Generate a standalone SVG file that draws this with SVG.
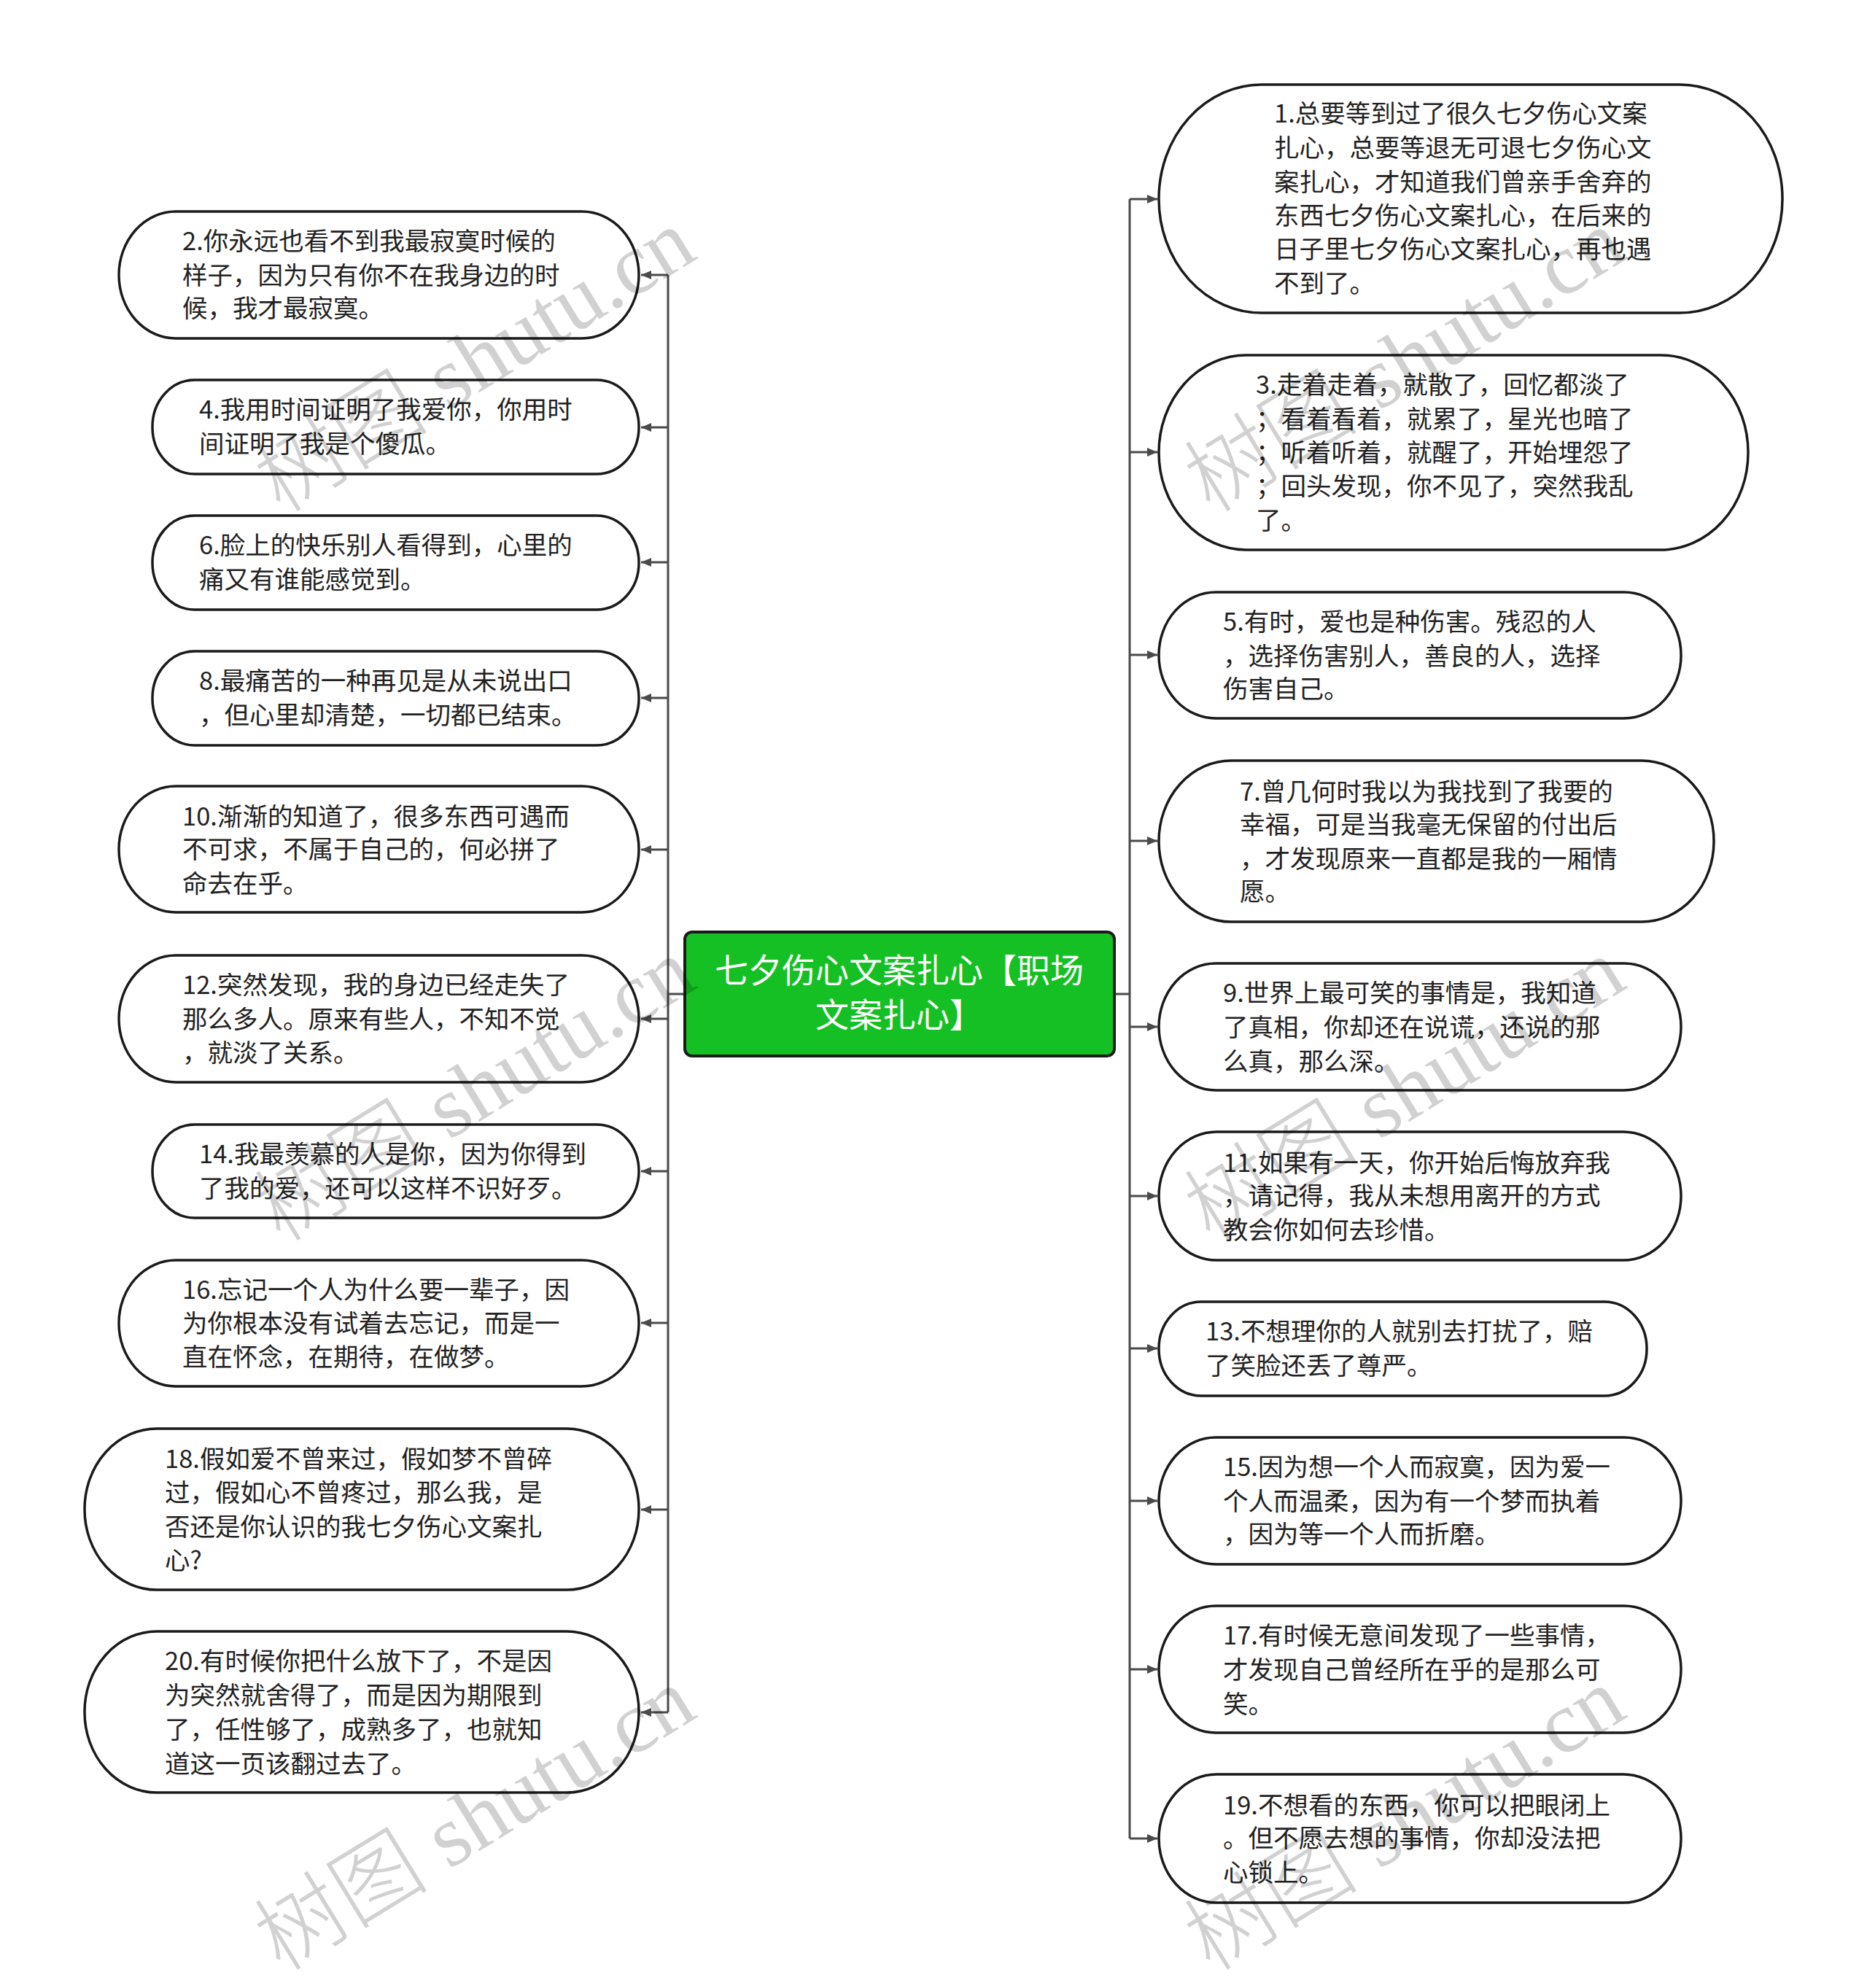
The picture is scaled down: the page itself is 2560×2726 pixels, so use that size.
<svg xmlns="http://www.w3.org/2000/svg" width="2560" height="2726" viewBox="0 0 2560 2726">
<defs>
<marker id="arr" markerUnits="userSpaceOnUse" markerWidth="14" markerHeight="12" viewBox="0 0 14 12" refX="14" refY="6" orient="auto">
<path d="M0,0 L14,6 L0,12 z" fill="#4a4a4a"/>
</marker>
</defs>
<style>
.node rect{fill:#fff;stroke:#1a1a1a;stroke-width:3.5}
.t{font-family:"Noto Sans CJK SC","Noto Sans",sans-serif;font-size:34.5px;fill:#222}
.root rect{fill:#14c023;stroke:#1a1a1a;stroke-width:4}
.rt{font-family:"Noto Sans CJK SC","Noto Sans",sans-serif;font-size:46px;fill:#fff;text-anchor:middle}
.c path{fill:none;stroke:#4a4a4a;stroke-width:3}
.c .a{marker-end:url(#arr)}
.wm{font-family:"Liberation Serif","Noto Sans CJK SC",serif;font-size:120px;font-weight:300;fill:#000;fill-opacity:0.18}
</style>
<rect width="2560" height="2726" fill="#fff"/>

<g class="c" id="connectors">
<path d="M939,1363 H916"/>
<path d="M916,377 V2348"/>
<path class="a" d="M916,377 H879"/>
<path class="a" d="M916,586 H879"/>
<path class="a" d="M916,771 H879"/>
<path class="a" d="M916,957 H879"/>
<path class="a" d="M916,1165 H879"/>
<path class="a" d="M916,1397 H879"/>
<path class="a" d="M916,1606 H879"/>
<path class="a" d="M916,1814 H879"/>
<path class="a" d="M916,2070 H879"/>
<path class="a" d="M916,2348 H879"/>
<path d="M1528,1363 H1549"/>
<path d="M1549,273 V2521"/>
<path class="a" d="M1549,273 H1587"/>
<path class="a" d="M1549,620 H1587"/>
<path class="a" d="M1549,898 H1587"/>
<path class="a" d="M1549,1153 H1587"/>
<path class="a" d="M1549,1408 H1587"/>
<path class="a" d="M1549,1640 H1587"/>
<path class="a" d="M1549,1849 H1587"/>
<path class="a" d="M1549,2058 H1587"/>
<path class="a" d="M1549,2289 H1587"/>
<path class="a" d="M1549,2521 H1587"/>
</g>

<g class="root" id="root">
<rect x="939" y="1278" width="589" height="170" rx="10"/>
<text class="rt"><tspan x="1233" y="1347">七夕伤心文案扎心【职场</tspan><tspan x="1233" y="1408">文案扎心】</tspan></text>
</g>

<g class="node" id="n1">
<rect x="1589" y="116" width="855" height="313" rx="141" ry="156"/>
<text class="t"><tspan x="1747" y="168">1.总要等到过了很久七夕伤心文案</tspan><tspan x="1747" y="215">扎心，总要等退无可退七夕伤心文</tspan><tspan x="1747" y="262">案扎心，才知道我们曾亲手舍弃的</tspan><tspan x="1747" y="308">东西七夕伤心文案扎心，在后来的</tspan><tspan x="1747" y="354">日子里七夕伤心文案扎心，再也遇</tspan><tspan x="1747" y="401">不到了。</tspan></text>
</g>
<g class="node" id="n3">
<rect x="1589" y="487" width="808" height="267" rx="120" ry="133"/>
<text class="t"><tspan x="1722" y="540">3.走着走着，就散了，回忆都淡了</tspan><tspan x="1722" y="587">；看着看着，就累了，星光也暗了</tspan><tspan x="1722" y="633">；听着听着，就醒了，开始埋怨了</tspan><tspan x="1722" y="679">；回头发现，你不见了，突然我乱</tspan><tspan x="1722" y="726">了。</tspan></text>
</g>
<g class="node" id="n5">
<rect x="1589" y="812" width="716" height="173" rx="78" ry="86"/>
<text class="t"><tspan x="1677" y="865">5.有时，爱也是种伤害。残忍的人</tspan><tspan x="1677" y="912">，选择伤害别人，善良的人，选择</tspan><tspan x="1677" y="957">伤害自己。</tspan></text>
</g>
<g class="node" id="n7">
<rect x="1589" y="1043" width="761" height="221" rx="99" ry="110"/>
<text class="t"><tspan x="1700" y="1098">7.曾几何时我以为我找到了我要的</tspan><tspan x="1700" y="1143">幸福，可是当我毫无保留的付出后</tspan><tspan x="1700" y="1190">，才发现原来一直都是我的一厢情</tspan><tspan x="1700" y="1235">愿。</tspan></text>
</g>
<g class="node" id="n9">
<rect x="1589" y="1321" width="716" height="174" rx="78" ry="87"/>
<text class="t"><tspan x="1677" y="1374">9.世界上最可笑的事情是，我知道</tspan><tspan x="1677" y="1421">了真相，你却还在说谎，还说的那</tspan><tspan x="1677" y="1468">么真，那么深。</tspan></text>
</g>
<g class="node" id="n11">
<rect x="1589" y="1552" width="716" height="176" rx="79" ry="88"/>
<text class="t"><tspan x="1677" y="1607">11.如果有一天，你开始后悔放弃我</tspan><tspan x="1677" y="1652">，请记得，我从未想用离开的方式</tspan><tspan x="1677" y="1699">教会你如何去珍惜。</tspan></text>
</g>
<g class="node" id="n13">
<rect x="1589" y="1785" width="669" height="129" rx="58" ry="64"/>
<text class="t"><tspan x="1653" y="1838">13.不想理你的人就别去打扰了，赔</tspan><tspan x="1653" y="1885">了笑脸还丢了尊严。</tspan></text>
</g>
<g class="node" id="n15">
<rect x="1589" y="1971" width="716" height="174" rx="78" ry="87"/>
<text class="t"><tspan x="1677" y="2024">15.因为想一个人而寂寞，因为爱一</tspan><tspan x="1677" y="2071">个人而温柔，因为有一个梦而执着</tspan><tspan x="1677" y="2116">，因为等一个人而折磨。</tspan></text>
</g>
<g class="node" id="n17">
<rect x="1589" y="2202" width="716" height="174" rx="78" ry="87"/>
<text class="t"><tspan x="1677" y="2255">17.有时候无意间发现了一些事情，</tspan><tspan x="1677" y="2302">才发现自己曾经所在乎的是那么可</tspan><tspan x="1677" y="2349">笑。</tspan></text>
</g>
<g class="node" id="n19">
<rect x="1589" y="2433" width="716" height="176" rx="79" ry="88"/>
<text class="t"><tspan x="1677" y="2488">19.不想看的东西，你可以把眼闭上</tspan><tspan x="1677" y="2533">。但不愿去想的事情，你却没法把</tspan><tspan x="1677" y="2580">心锁上。</tspan></text>
</g>

<g class="node" id="n2">
<rect x="163" y="290" width="713" height="174" rx="78" ry="87"/>
<text class="t"><tspan x="250" y="343">2.你永远也看不到我最寂寞时候的</tspan><tspan x="250" y="390">样子，因为只有你不在我身边的时</tspan><tspan x="250" y="435">候，我才最寂寞。</tspan></text>
</g>
<g class="node" id="n4">
<rect x="209" y="521" width="667" height="129" rx="58" ry="64"/>
<text class="t"><tspan x="273" y="574">4.我用时间证明了我爱你，你用时</tspan><tspan x="273" y="621">间证明了我是个傻瓜。</tspan></text>
</g>
<g class="node" id="n6">
<rect x="209" y="707" width="667" height="129" rx="58" ry="64"/>
<text class="t"><tspan x="273" y="760">6.脸上的快乐别人看得到，心里的</tspan><tspan x="273" y="807">痛又有谁能感觉到。</tspan></text>
</g>
<g class="node" id="n8">
<rect x="209" y="893" width="667" height="129" rx="58" ry="64"/>
<text class="t"><tspan x="273" y="946">8.最痛苦的一种再见是从未说出口</tspan><tspan x="273" y="993">，但心里却清楚，一切都已结束。</tspan></text>
</g>
<g class="node" id="n10">
<rect x="163" y="1078" width="713" height="173" rx="78" ry="86"/>
<text class="t"><tspan x="250" y="1132">10.渐渐的知道了，很多东西可遇而</tspan><tspan x="250" y="1177">不可求，不属于自己的，何必拼了</tspan><tspan x="250" y="1224">命去在乎。</tspan></text>
</g>
<g class="node" id="n12">
<rect x="163" y="1310" width="713" height="174" rx="78" ry="87"/>
<text class="t"><tspan x="250" y="1363">12.突然发现，我的身边已经走失了</tspan><tspan x="250" y="1410">那么多人。原来有些人，不知不觉</tspan><tspan x="250" y="1456">，就淡了关系。</tspan></text>
</g>
<g class="node" id="n14">
<rect x="209" y="1542" width="667" height="128" rx="58" ry="64"/>
<text class="t"><tspan x="273" y="1595">14.我最羡慕的人是你，因为你得到</tspan><tspan x="273" y="1642">了我的爱，还可以这样不识好歹。</tspan></text>
</g>
<g class="node" id="n16">
<rect x="163" y="1728" width="713" height="173" rx="78" ry="86"/>
<text class="t"><tspan x="250" y="1781">16.忘记一个人为什么要一辈子，因</tspan><tspan x="250" y="1827">为你根本没有试着去忘记，而是一</tspan><tspan x="250" y="1873">直在怀念，在期待，在做梦。</tspan></text>
</g>
<g class="node" id="n18">
<rect x="116" y="1959" width="760" height="221" rx="99" ry="110"/>
<text class="t"><tspan x="226" y="2013">18.假如爱不曾来过，假如梦不曾碎</tspan><tspan x="226" y="2059">过，假如心不曾疼过，那么我，是</tspan><tspan x="226" y="2106">否还是你认识的我七夕伤心文案扎</tspan><tspan x="226" y="2152">心?</tspan></text>
</g>
<g class="node" id="n20">
<rect x="116" y="2237" width="760" height="221" rx="99" ry="110"/>
<text class="t"><tspan x="226" y="2290">20.有时候你把什么放下了，不是因</tspan><tspan x="226" y="2337">为突然就舍得了，而是因为期限到</tspan><tspan x="226" y="2384">了，任性够了，成熟多了，也就知</tspan><tspan x="226" y="2431">道这一页该翻过去了。</tspan></text>
</g>

<g id="watermarks">
<text class="wm" transform="translate(385,705) rotate(-31.5)">树图 shutu.cn</text>
<text class="wm" transform="translate(1660,705) rotate(-31.5)">树图 shutu.cn</text>
<text class="wm" transform="translate(385,1705) rotate(-31.5)">树图 shutu.cn</text>
<text class="wm" transform="translate(1660,1705) rotate(-31.5)">树图 shutu.cn</text>
<text class="wm" transform="translate(385,2705) rotate(-31.5)">树图 shutu.cn</text>
<text class="wm" transform="translate(1660,2705) rotate(-31.5)">树图 shutu.cn</text>
</g>
</svg>
